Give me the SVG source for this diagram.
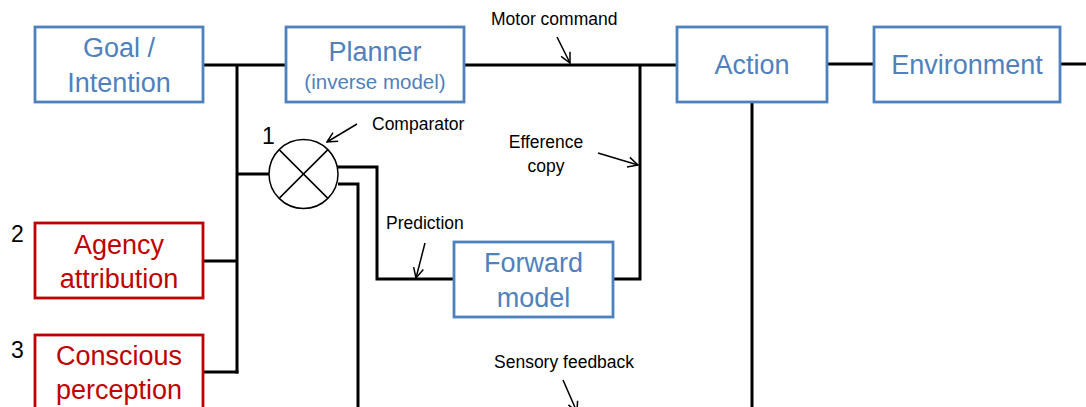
<svg xmlns="http://www.w3.org/2000/svg" width="1086" height="407" viewBox="0 0 1086 407">
  <style>
    .box-blue { fill: #ffffff; stroke: #4f81bd; stroke-width: 2.8; }
    .box-red { fill: #ffffff; stroke: #c00000; stroke-width: 2.8; }
    .t-blue { font-family: "Liberation Sans", Arial, sans-serif; font-size: 27px; fill: #4f81bd; text-anchor: middle; }
    .t-blue-sm { font-family: "Liberation Sans", Arial, sans-serif; font-size: 20.5px; fill: #4f81bd; text-anchor: middle; }
    .t-red { font-family: "Liberation Sans", Arial, sans-serif; font-size: 27px; fill: #c00000; text-anchor: middle; }
    .label { font-family: "Liberation Sans", Arial, sans-serif; font-size: 17.5px; fill: #000000; }
    .num { font-family: "Liberation Sans", Arial, sans-serif; font-size: 23px; fill: #000000; }
    .wire { fill: none; stroke: #000000; stroke-width: 3; stroke-linejoin: miter; }
    .pointer { fill: none; stroke: #000000; stroke-width: 1.5; }
  </style>
  <defs>
    <marker id="open-arrow" viewBox="0 0 12 12" refX="11" refY="6" markerWidth="12" markerHeight="12" markerUnits="userSpaceOnUse" orient="auto">
      <path d="M1,1 L11,6 L1,11" fill="none" stroke="#000000" stroke-width="1.5"/>
    </marker>
  </defs>

  <rect width="1086" height="407" fill="#ffffff"/>

  <!-- connectors -->
  <g id="connectors">
    <path class="wire" d="M203,65 H286"/>
    <path class="wire" d="M237,65 V373.5"/>
    <path class="wire" d="M237,174 H269"/>
    <path class="wire" d="M203,261 H237"/>
    <path class="wire" d="M203,372 H238.5"/>
    <path class="wire" d="M337,167 H377 V279 H454"/>
    <path class="wire" d="M338,184 H358 V407"/>
    <path class="wire" d="M464,65 H677"/>
    <path class="wire" d="M640,65 V279 H613"/>
    <path class="wire" d="M827,64 H874"/>
    <path class="wire" d="M1060,64 H1086"/>
    <path class="wire" d="M752,102 V407"/>
  </g>

  <!-- label pointers -->
  <g id="pointers">
    <line class="pointer" x1="357" y1="124" x2="327" y2="142" marker-end="url(#open-arrow)"/>
    <line class="pointer" x1="557" y1="37" x2="570" y2="63" marker-end="url(#open-arrow)"/>
    <line class="pointer" x1="598" y1="153" x2="638" y2="165" marker-end="url(#open-arrow)"/>
    <line class="pointer" x1="425" y1="243" x2="416" y2="278" marker-end="url(#open-arrow)"/>
    <line class="pointer" x1="563" y1="380" x2="577" y2="412" marker-end="url(#open-arrow)"/>
  </g>

  <!-- labels -->
  <g id="labels">
    <text class="label" x="491" y="25">Motor command</text>
    <text class="label" x="372" y="130">Comparator</text>
    <text class="label" x="546" y="148" text-anchor="middle">Efference</text>
    <text class="label" x="546" y="172" text-anchor="middle">copy</text>
    <text class="label" x="386" y="229">Prediction</text>
    <text class="label" x="494" y="368">Sensory feedback</text>
  </g>

  <g id="goal">
    <rect class="box-blue" x="35" y="27" width="168" height="75"/>
    <text class="t-blue" x="119" y="57">Goal /</text>
    <text class="t-blue" x="119" y="92">Intention</text>
  </g>

  <g id="planner">
    <rect class="box-blue" x="286" y="27" width="178" height="75"/>
    <text class="t-blue" x="375" y="61">Planner</text>
    <text class="t-blue-sm" x="375" y="89">(inverse model)</text>
  </g>

  <g id="action">
    <rect class="box-blue" x="677" y="27" width="150" height="75"/>
    <text class="t-blue" x="752" y="74">Action</text>
  </g>

  <g id="environment">
    <rect class="box-blue" x="874" y="27" width="186" height="75"/>
    <text class="t-blue" x="967" y="74">Environment</text>
  </g>

  <g id="comparator">
    <circle cx="303.5" cy="174" r="34.5" fill="#ffffff" stroke="#000000" stroke-width="1.5"/>
    <line x1="279.1" y1="149.6" x2="327.9" y2="198.4" stroke="#000000" stroke-width="1.5"/>
    <line x1="327.9" y1="149.6" x2="279.1" y2="198.4" stroke="#000000" stroke-width="1.5"/>
    <text class="num" x="262" y="144">1</text>
  </g>

  <g id="forward-model">
    <rect class="box-blue" x="454" y="242" width="159" height="75"/>
    <text class="t-blue" x="533.5" y="272">Forward</text>
    <text class="t-blue" x="533.5" y="307">model</text>
  </g>

  <g id="agency">
    <rect class="box-red" x="35" y="223" width="168" height="75"/>
    <text class="t-red" x="119" y="254">Agency</text>
    <text class="t-red" x="119" y="288">attribution</text>
    <text class="num" x="11" y="242">2</text>
  </g>

  <g id="conscious">
    <rect class="box-red" x="35" y="335" width="168" height="80"/>
    <text class="t-red" x="119" y="365">Conscious</text>
    <text class="t-red" x="119" y="399">perception</text>
    <text class="num" x="11" y="358">3</text>
  </g>
</svg>
